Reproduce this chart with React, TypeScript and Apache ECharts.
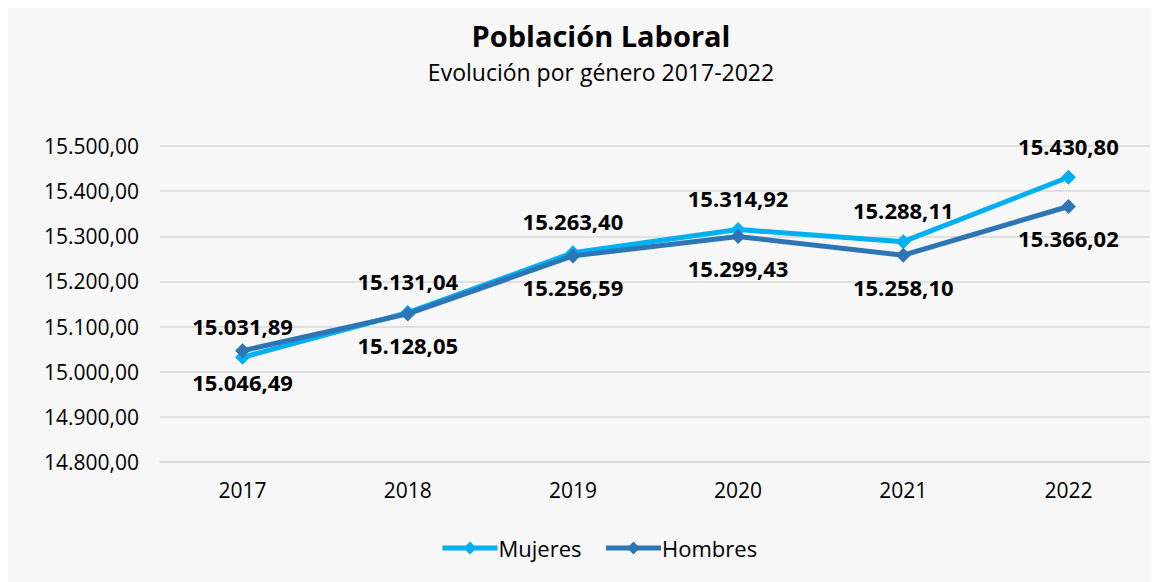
import React, { useEffect, useRef } from "react";
import * as echarts from "echarts";

const categories = ["2017", "2018", "2019", "2020", "2021", "2022"];
const mujeres = [15031.89, 15131.04, 15263.4, 15314.92, 15288.11, 15430.8];
const hombres = [15046.49, 15128.05, 15256.59, 15299.43, 15258.1, 15366.02];
const yMin = 14800;
const yMax = 15500;
const yStep = 100;

const fmt = (v: number) => {
  const [i, d] = v.toFixed(2).split(".");
  return i.replace(/\B(?=(\d{3})+(?!\d))/g, ".") + "," + d;
};

const FONT = "'Open Sans', 'Noto Sans', sans-serif";

export default function App() {
  const ref = useRef<HTMLDivElement>(null);
  useEffect(() => {
    if (!ref.current) return;
    const chart = echarts.init(ref.current, null, { renderer: "svg" });
    chart.setOption({
      animation: false,
      backgroundColor: "#f7f7f7",
      textStyle: { fontFamily: FONT },
      title: {
        text: "Población Laboral",
        subtext: "Evolución por género 2017-2022",
        left: 588,
        textAlign: "center",
        top: 8,
        itemGap: 10,
        textStyle: { fontFamily: FONT, fontSize: 29, fontWeight: "bold", color: "#000" },
        subtextStyle: { fontFamily: FONT, fontSize: 23, color: "#000" },
      },
      legend: {
        bottom: 18,
        left: 427,
        itemWidth: 55,
        itemHeight: 16,
        itemGap: 22,
        lineStyle: { width: 5 },
        textStyle: { fontFamily: FONT, fontSize: 22, color: "#000", padding: [0, 0, 0, -4] },
        data: ["Mujeres", "Hombres"],
      },
      grid: { left: 152, right: 7, top: 138, bottom: 120 },
      xAxis: {
        type: "category",
        data: categories,
        boundaryGap: true,
        axisLine: { lineStyle: { color: "#d9d9d9", width: 1.5 } },
        axisTick: { show: false },
        axisLabel: { fontFamily: FONT, fontSize: 21, color: "#000", margin: 17 },
      },
      yAxis: {
        type: "value",
        min: yMin,
        max: yMax,
        interval: yStep,
        axisLine: { show: false },
        axisTick: { show: false },
        splitLine: { lineStyle: { color: "#d9d9d9", width: 1.5 } },
        axisLabel: {
          fontFamily: FONT,
          fontSize: 21,
          color: "#000",
          margin: 21,
          formatter: (v: number) => fmt(v),
        },
      },
      series: [
        {
          name: "Mujeres",
          type: "line",
          data: mujeres,
          symbol: "diamond",
          symbolSize: 15,
          z: 2,
          lineStyle: { color: "#00b0f0", width: 5 },
          itemStyle: { color: "#00b0f0" },
          label: {
            show: true,
            position: "top",
            distance: 13,
            fontFamily: FONT,
            fontSize: 22,
            fontWeight: "bold",
            color: "#000",
            formatter: (p: any) => fmt(p.value),
          },
        },
        {
          name: "Hombres",
          type: "line",
          data: hombres,
          symbol: "diamond",
          symbolSize: 15,
          z: 3,
          lineStyle: { color: "#2e75b6", width: 5 },
          itemStyle: { color: "#2e75b6" },
          label: {
            show: true,
            position: "bottom",
            distance: 13,
            fontFamily: FONT,
            fontSize: 22,
            fontWeight: "bold",
            color: "#000",
            formatter: (p: any) => fmt(p.value),
          },
        },
      ],
    });
    return () => chart.dispose();
  }, []);
  return <div ref={ref} style={{ width: 1150, height: 574 }} />;
}
